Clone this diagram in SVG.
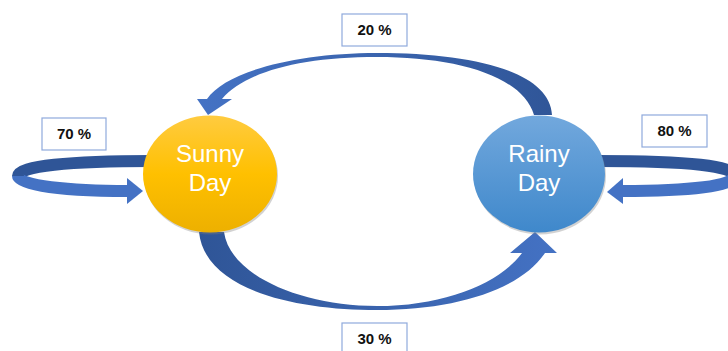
<svg xmlns="http://www.w3.org/2000/svg" width="728" height="351" viewBox="0 0 728 351">
  <style>
    .lbl rect { fill: #ffffff; stroke: #8FAADC; stroke-width: 1.2; }
    .lbl text { font-family: "Liberation Sans", Arial, sans-serif; font-weight: bold; font-size: 15px; fill: #111111; text-anchor: middle; }
    .node text { font-family: "Liberation Sans", Arial, sans-serif; font-size: 24px; fill: #ffffff; text-anchor: middle; }
    .back { fill: none; stroke: #2F5597; stroke-width: 12; }
    .front { fill: none; stroke: #4472C4; stroke-width: 12; }
  </style>
  <defs>
    <linearGradient id="gTop" gradientUnits="userSpaceOnUse" x1="200" y1="0" x2="560" y2="0">
      <stop offset="0" stop-color="#4472C4"/>
      <stop offset="1" stop-color="#2F5597"/>
    </linearGradient>
    <linearGradient id="gBot" gradientUnits="userSpaceOnUse" x1="200" y1="0" x2="560" y2="0">
      <stop offset="0" stop-color="#2F5597"/>
      <stop offset="1" stop-color="#4472C4"/>
    </linearGradient>
    <linearGradient id="gSun" x1="0" y1="0" x2="0" y2="1">
      <stop offset="0" stop-color="#FFCB40"/>
      <stop offset="0.5" stop-color="#FFC000"/>
      <stop offset="1" stop-color="#EDB000"/>
    </linearGradient>
    <linearGradient id="gRain" x1="0" y1="0" x2="0" y2="1">
      <stop offset="0" stop-color="#72A8DD"/>
      <stop offset="1" stop-color="#3F88CB"/>
    </linearGradient>
  </defs>

  <g id="connectors">
    <!-- top arrow: Rainy -> Sunny (20%) -->
    <path fill="url(#gTop)" d="M 552,115 C 550,72 475,53 377,53 C 295,53 225,72 207,99 L 197,99 L 208,115 L 232,99 L 222,99 C 245,72 300,57 377,57 C 455,57 522,75 534,115 Z"/>
    <!-- bottom arrow: Sunny -> Rainy (30%) -->
    <path fill="url(#gBot)" d="M 199,232 C 205,290 295,310 377,310 C 455,310 520,290 545,253 L 557,253 L 535,232 L 510,253 L 522,253 C 500,283 445,306 377,306 C 300,306 230,275 224,232 Z"/>
    <!-- left self loop (70%) -->
    <path class="back" d="M 152,161 C 70,161 18,166 18,176"/>
    <path class="front" d="M 18,176 C 18,186 70,191 128,191"/>
    <polygon fill="#4472C4" points="127,178 143,191 127,204"/>
    <!-- right self loop (80%) -->
    <path class="back" d="M 598,161 C 690,161 734,166 734,176"/>
    <path class="front" d="M 734,176 C 734,186 690,191 622,191"/>
    <polygon fill="#4472C4" points="623,178 607,192 623,204"/>
  </g>

  <g id="sunny" class="node">
    <ellipse cx="211" cy="176" rx="67" ry="58.5" fill="#7f7f7f" opacity="0.35"/>
    <ellipse cx="210" cy="174" rx="67" ry="58.5" fill="url(#gSun)"/>
    <text x="210" y="162">Sunny</text>
    <text x="210" y="191">Day</text>
  </g>

  <g id="rainy" class="node">
    <ellipse cx="540" cy="176" rx="66" ry="58.5" fill="#7f7f7f" opacity="0.35"/>
    <ellipse cx="539" cy="174" rx="66" ry="58.5" fill="url(#gRain)"/>
    <text x="539" y="162">Rainy</text>
    <text x="539" y="191">Day</text>
  </g>

  <g id="label-70" class="lbl">
    <rect x="42" y="118" width="64" height="32"/>
    <text x="74" y="139">70 %</text>
  </g>
  <g id="label-20" class="lbl">
    <rect x="342" y="14" width="65" height="32"/>
    <text x="374.5" y="35">20 %</text>
  </g>
  <g id="label-30" class="lbl">
    <rect x="342" y="323" width="65" height="32"/>
    <text x="374.5" y="344">30 %</text>
  </g>
  <g id="label-80" class="lbl">
    <rect x="642" y="115" width="65" height="32"/>
    <text x="674.5" y="136">80 %</text>
  </g>
</svg>
